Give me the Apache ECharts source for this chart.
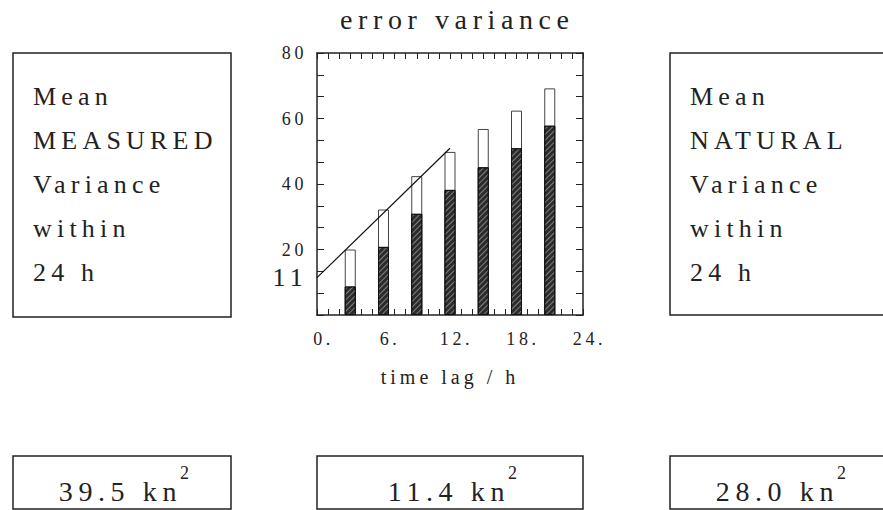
<!DOCTYPE html>
<html>
<head>
<meta charset="utf-8">
<script src="https://cdn.jsdelivr.net/npm/echarts@6/dist/echarts.min.js"></script>
<style>
  html, body { margin: 0; padding: 0; background: #fff; }
  #chart { width: 883px; height: 510px; }
  #chart text { letter-spacing: 0.2em; }
</style>
</head>
<body>
<div id="chart"></div>
<script>
// ---- data ----
const lagHours = [3, 6, 9, 12, 15, 18, 21];
const totalVariance = [20.0, 32.2, 42.4, 49.8, 56.8, 62.4, 69.2];
const hatchedVariance = [8.7, 20.8, 30.9, 38.2, 45.1, 50.9, 57.8];
const fitLineX = [0, 12];
const fitLineY = [11.4, 50.9];
const fitStartLabel = '11';
const xTickLabels = ['0.', '6.', '12.', '18.', '24.'];
const yTickLabels = ['', '20', '40', '60', '80'];
const titleText = 'error variance';
const xAxisName = 'time lag / h';
const leftBoxLines = ['Mean', 'MEASURED', 'Variance', 'within', '24 h'];
const rightBoxLines = ['Mean', 'NATURAL', 'Variance', 'within', '24 h'];
const bottomValues = ['39.5', '11.4', '28.0'];
const bottomUnit = 'kn';
const bottomSup = '2';

const FONT = "'Liberation Serif', 'Times New Roman', serif";
const INK = '#222';

const chart = echarts.init(document.getElementById('chart'), null, { renderer: 'svg' });

function valueTexts(v, cx) {
  const r = cx + 60;
  return [{
    type: 'text',
    style: {
      text: v + ' ' + bottomUnit, x: r, y: 491, align: 'right', verticalAlign: 'middle',
      fontSize: 28, fontFamily: FONT, fill: INK
    }
  }, {
    type: 'text',
    style: {
      text: bottomSup, x: r - 2, y: 473, align: 'left', verticalAlign: 'middle',
      fontSize: 18, fontFamily: FONT, fill: INK
    }
  }];
}

const boxStroke = { fill: 'none', stroke: INK, lineWidth: 1.5 };

const option = {
  backgroundColor: '#fff',
  animation: false,
  title: {
    text: titleText, left: 335, top: 0,
    textStyle: { fontFamily: FONT, fontSize: 28, fontWeight: 'normal', color: INK }
  },
  grid: { left: 317, top: 53, width: 266, height: 262, containLabel: false },
  xAxis: [{
    type: 'value', position: 'bottom', min: 0, max: 24, interval: 6,
    axisLine: { show: true, onZero: false, lineStyle: { color: INK, width: 1.5 } },
    axisTick: { show: true, inside: true, length: 6, lineStyle: { color: INK } },
    minorTick: { show: true, splitNumber: 6, length: 6, lineStyle: { color: INK } },
    splitLine: { show: false },
    axisLabel: {
      margin: 15, fontFamily: FONT, fontSize: 18, color: INK, padding: [0, 0, 0, 13],
      formatter: (v) => xTickLabels[Math.round(v / 6)]
    },
    name: xAxisName, nameLocation: 'middle', nameGap: 52,
    nameTextStyle: { fontFamily: FONT, fontSize: 20, color: INK }
  }, {
    type: 'value', position: 'top', min: 0, max: 24, interval: 6,
    axisLine: { show: true, onZero: false, lineStyle: { color: INK, width: 1.5 } },
    axisTick: { show: true, inside: true, length: 6, lineStyle: { color: INK } },
    minorTick: { show: true, splitNumber: 6, length: 6, lineStyle: { color: INK } },
    splitLine: { show: false },
    axisLabel: { show: false }
  }],
  yAxis: [{
    type: 'value', position: 'left', min: 0, max: 80, interval: 20,
    axisLine: { show: true, onZero: false, lineStyle: { color: INK, width: 1.5 } },
    axisTick: { show: true, inside: true, length: 7, lineStyle: { color: INK } },
    minorTick: { show: true, splitNumber: 3, length: 7, lineStyle: { color: INK } },
    splitLine: { show: false },
    axisLabel: {
      margin: 10, fontFamily: FONT, fontSize: 18, color: INK,
      formatter: (v) => yTickLabels[Math.round(v / 20)]
    }
  }, {
    type: 'value', position: 'right', min: 0, max: 80, interval: 20,
    axisLine: { show: true, onZero: false, lineStyle: { color: INK, width: 1.5 } },
    axisTick: { show: true, inside: true, length: 7, lineStyle: { color: INK } },
    minorTick: { show: true, splitNumber: 3, length: 7, lineStyle: { color: INK } },
    splitLine: { show: false },
    axisLabel: { show: false }
  }],
  series: [{
    type: 'bar', xAxisIndex: 0, yAxisIndex: 0, barWidth: 11, barGap: '-100%',
    data: lagHours.map((h, i) => [h, totalVariance[i]]),
    itemStyle: { color: '#fff', borderColor: '#444', borderWidth: 1 },
    z: 2
  }, {
    type: 'bar', xAxisIndex: 0, yAxisIndex: 0, barWidth: 11, barGap: '-100%',
    data: lagHours.map((h, i) => [h, hatchedVariance[i]]),
    itemStyle: {
      color: '#2b2b2b', borderColor: '#111', borderWidth: 1,
      decal: {
        symbol: 'rect', color: 'rgba(255,255,255,0.4)',
        dashArrayX: [1, 0], dashArrayY: [1, 3], rotation: -Math.PI / 4
      }
    },
    z: 3
  }, {
    type: 'line', xAxisIndex: 0, yAxisIndex: 0,
    data: fitLineX.map((x, i) => [x, fitLineY[i]]),
    showSymbol: false, symbol: 'none',
    lineStyle: { color: '#111', width: 1.2 },
    markPoint: {
      symbol: 'circle', symbolSize: 0,
      data: [{ coord: [fitLineX[0], fitLineY[0]], value: fitStartLabel }],
      label: {
        show: true, position: 'left', distance: 9, formatter: fitStartLabel,
        fontFamily: FONT, fontSize: 26, color: INK
      }
    },
    z: 4
  }],
  graphic: [
    { type: 'rect', shape: { x: 13, y: 53, width: 218, height: 264 }, style: boxStroke },
    { type: 'rect', shape: { x: 670, y: 53, width: 218, height: 262 }, style: boxStroke },
    { type: 'rect', shape: { x: 13, y: 456, width: 218, height: 53 }, style: boxStroke },
    { type: 'rect', shape: { x: 317, y: 456, width: 266, height: 53 }, style: boxStroke },
    { type: 'rect', shape: { x: 670, y: 456, width: 218, height: 53 }, style: boxStroke },
    {
      type: 'text',
      style: {
        text: leftBoxLines.join('\n'), x: 33, y: 74, lineHeight: 44,
        fontFamily: FONT, fontSize: 26, fill: INK, align: 'left', verticalAlign: 'top'
      }
    },
    {
      type: 'text',
      style: {
        text: rightBoxLines.join('\n'), x: 690, y: 74, lineHeight: 44,
        fontFamily: FONT, fontSize: 26, fill: INK, align: 'left', verticalAlign: 'top'
      }
    }
  ].concat(
    valueTexts(bottomValues[0], 122),
    valueTexts(bottomValues[1], 450),
    valueTexts(bottomValues[2], 779)
  )
};

chart.setOption(option);
</script>
</body>
</html>
